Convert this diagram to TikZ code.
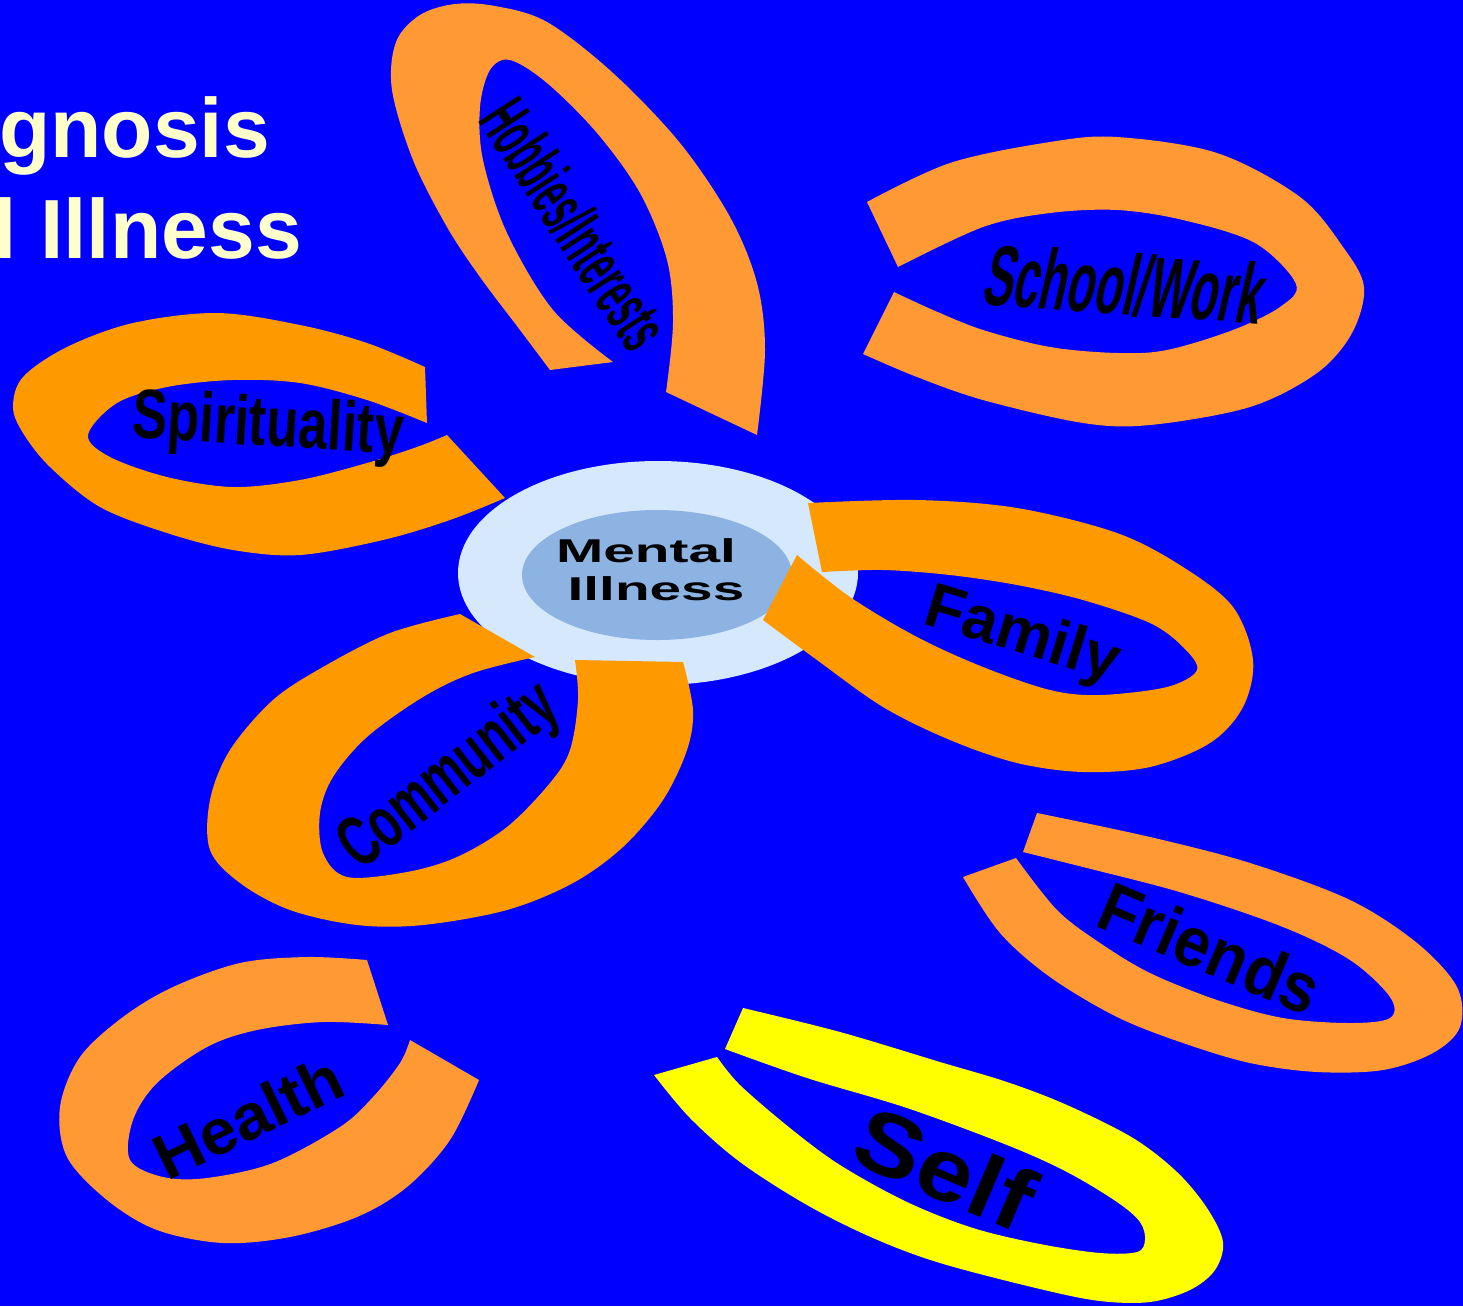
\documentclass[tikz,border=0pt]{standalone}
\usepackage{fontspec}
\usepackage{graphicx}
\setmainfont{Liberation Sans}
\newfontfamily\slantsans[FakeSlant=0.3]{Liberation Sans}
\newcommand\setfs[1]{\fontsize{#1}{#1}\selectfont}
\definecolor{bgblue}{RGB}{0,0,255}
\definecolor{orA}{RGB}{255,153,51}
\definecolor{orB}{RGB}{255,153,0}
\definecolor{yel}{RGB}{255,255,0}
\definecolor{lightblue}{RGB}{213,232,252}
\definecolor{midblue}{RGB}{141,179,226}
\definecolor{titlecol}{RGB}{255,255,204}
\tikzset{
  petalA/.style={fill=orA},
  petalB/.style={fill=orB},
  selfpetal/.style={fill=yel},
  lbl/.style={text=black, inner sep=0pt, font=\bfseries},
  titletext/.style={text=titlecol, inner sep=0pt, anchor=base east},
  centertext/.style={text=black, inner sep=0pt, anchor=base},
  curve/.style={smooth, tension=0.55}
}
\begin{document}
\begin{tikzpicture}[x=1pt, y=-1pt]
\useasboundingbox (0,0) rectangle (1463,1306);
\clip (0,0) rectangle (1463,1306);
\fill[bgblue] (0,0) rectangle (1463,1306);

% centre
\fill[lightblue] (658,573) ellipse [x radius=200, y radius=112];
\fill[midblue] (657,575) ellipse [x radius=135, y radius=65];

% Hobbies/Interests
\fill[petalA] plot[curve] coordinates {(550,370) (520,330) (480,277) (447,227) (413,160) (392,90) (396,42) (420,15) (455,4) (495,6) (547,22) (613,73) (680,143) (730,217) (757,283) (765,350) (757,435)}
  -- plot[curve] coordinates {(666,392) (673,323) (667,260) (640,193) (597,133) (547,83) (510,60) (490,70) (480,107) (483,160) (507,233) (553,310) (613,362)} -- cycle;

% School/Work
\fill[petalA] plot[curve] coordinates {(867,202) (950,163) (1050,142) (1117,137) (1217,153) (1300,197) (1343,247) (1364,287) (1352,333) (1317,373) (1250,407) (1150,425) (1083,423) (983,400) (917,377) (863,354)}
  -- plot[curve] coordinates {(894,292) (933,310) (983,330) (1050,347) (1117,353) (1167,350) (1233,330) (1280,307) (1296,284) (1255,243) (1183,220) (1117,210) (1050,213) (983,227) (898,267)} -- cycle;

% Spirituality
\fill[petalB] plot[curve] coordinates {(425,367) (367,343) (300,325) (217,313) (133,323) (67,347) (23,377) (13,407) (23,433) (50,467) (100,507) (167,533) (233,550) (300,555) (383,540) (450,520) (505,498)}
  -- plot[curve] coordinates {(447,435) (417,447) (367,463) (300,480) (233,487) (167,477) (110,457) (88,435) (117,403) (167,387) (233,380) (300,383) (367,400) (427,423)} -- cycle;

% Family
\fill[petalB] plot[curve] coordinates {(808,503) (917,500) (1017,508) (1117,533) (1183,567) (1233,607) (1253,660) (1243,707) (1210,743) (1150,767) (1083,772) (1017,763) (950,740) (883,707) (817,660) (763,620)}
  -- plot[curve] coordinates {(797,555) (850,597) (917,637) (983,667) (1050,690) (1100,695) (1167,687) (1197,670) (1183,647) (1150,623) (1083,600) (1017,585) (950,575) (883,570) (822,572)} -- cycle;

% Community
\fill[petalB] plot[curve] coordinates {(460,614) (390,633) (323,667) (273,700) (230,750) (210,800) (210,850) (240,883) (290,910) (357,925) (423,925) (507,910) (573,883) (623,847) (663,800) (687,750) (693,710) (683,662)}
  -- plot[curve] coordinates {(575,660) (578,700) (570,750) (550,783) (507,827) (457,857) (407,872) (347,877) (323,853) (320,813) (333,777) (367,737) (423,697) (473,673) (535,657)} -- cycle;

% Friends
\fill[petalA] plot[curve] coordinates {(1037,813) (1150,837) (1250,863) (1350,900) (1417,943) (1457,987) (1460,1027) (1433,1053) (1383,1070) (1317,1072) (1250,1063) (1183,1043) (1117,1017) (1050,977) (1000,933) (963,877)}
  -- plot[curve] coordinates {(1016,858) (1057,910) (1100,943) (1150,973) (1217,1000) (1283,1018) (1350,1023) (1390,1018) (1390,997) (1350,960) (1283,927) (1183,893) (1083,867) (1023,852)} -- cycle;

% Self
\fill[selfpetal] plot[curve] coordinates {(743,1008) (840,1032) (940,1062) (1007,1082) (1067,1105) (1133,1138) (1177,1172) (1207,1208) (1223,1242) (1215,1270) (1190,1290) (1150,1302) (1100,1301) (1040,1289) (940,1263) (873,1238) (807,1205) (740,1162) (690,1118) (654,1075)}
  -- plot[curve] coordinates {(717,1057) (740,1085) (790,1128) (840,1165) (907,1202) (973,1228) (1040,1244) (1100,1253) (1137,1252) (1145,1240) (1140,1222) (1117,1202) (1067,1172) (1007,1145) (907,1108) (807,1078) (725,1049)} -- cycle;

% Health
\fill[petalA] plot[curve] coordinates {(367,960) (307,957) (240,963) (173,987) (123,1017) (80,1057) (60,1107) (67,1157) (107,1200) (157,1230) (223,1243) (290,1237) (357,1217) (407,1187) (450,1140) (479,1080)}
  -- plot[curve] coordinates {(410,1040) (400,1063) (373,1097) (340,1127) (273,1163) (207,1178) (163,1177) (130,1160) (133,1120) (157,1083) (207,1047) (257,1030) (323,1022) (388,1025)} -- cycle;

% labels
\node[centertext] (mental) at (646,562) {\setfs{33}\bfseries\scalebox{1.72}[1]{Mental}};
\node[centertext] (illness) at (656,600) {\setfs{33}\bfseries\scalebox{1.72}[1]{Illness}};

\node[lbl, rotate=-57] (hobbies) at (575,224) {\setfs{71}\scalebox{0.47}[1]{Hobbies/Interests}};
\node[lbl, rotate=-4] (school) at (1121,284) {\setfs{86}\slantsans\bfseries\scalebox{0.53}[1]{School/Work}};
\node[lbl, rotate=-3.5] (spirit) at (268,428) {\setfs{70}\scalebox{0.75}[1]{Spirituality}};
\node[lbl, rotate=-17] (family) at (1022,637) {\setfs{63}Family};
\node[lbl, rotate=38] (community) at (450,778) {\setfs{72}\scalebox{0.65}[1]{Community}};
\node[lbl, rotate=-23] (friends) at (1210,948) {\setfs{70}\scalebox{0.92}[1]{Friends}};
\node[lbl, rotate=-23] (self) at (945,1168) {\setfs{88}\scalebox{1.15}[1]{Self}};
\node[lbl, rotate=26] (health) at (248,1117) {\setfs{64}\scalebox{1.03}[1]{Health}};

% title fragments
\node[titletext] (title1) at (270,157) {\setfs{84}\bfseries gnosis};
\node[titletext] (title2) at (302,258) {\setfs{84}\bfseries l Illness};
\end{tikzpicture}
\end{document}
